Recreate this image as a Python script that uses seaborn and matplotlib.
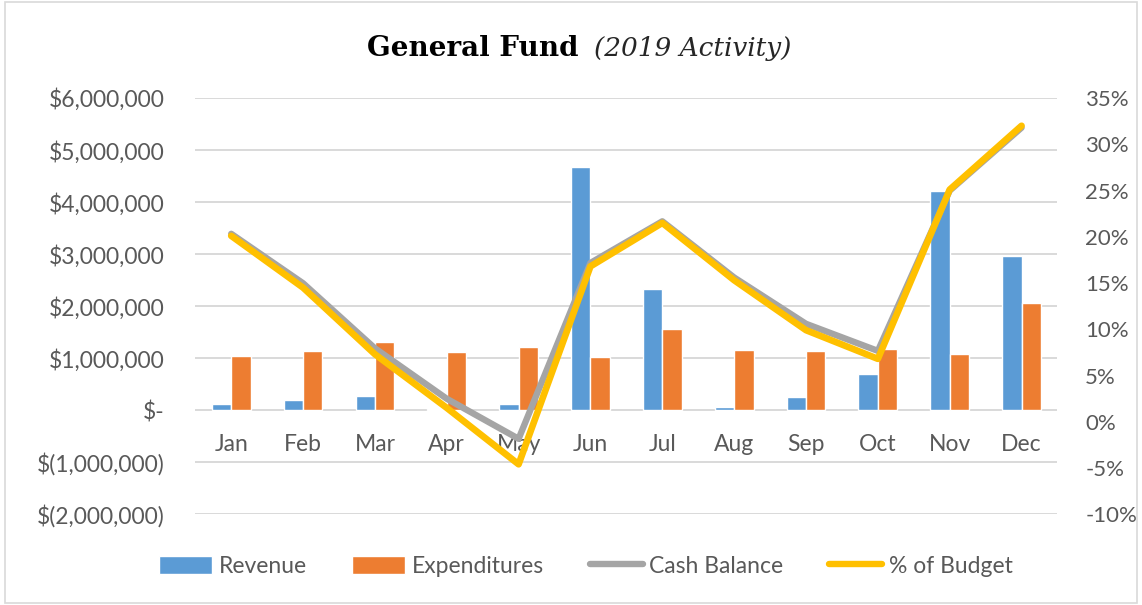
import numpy as np
import pandas as pd
import matplotlib
matplotlib.use("Agg")
import matplotlib.pyplot as plt
import seaborn as sns
from matplotlib.ticker import FuncFormatter, MultipleLocator
from matplotlib.patches import Patch, Rectangle
from matplotlib.lines import Line2D

months = ['Jan', 'Feb', 'Mar', 'Apr', 'May', 'Jun', 'Jul', 'Aug', 'Sep', 'Oct', 'Nov', 'Dec']
revenue = [120000, 190000, 270000, 30000, 120000, 4670000, 2320000, 70000, 250000, 690000, 4210000, 2970000]
expenditures = [1040000, 1140000, 1310000, 1110000, 1210000, 1030000, 1560000, 1160000, 1140000, 1180000, 1080000, 2060000]
cash_balance = [3390000, 2440000, 1190000, 220000, -550000, 2830000, 3630000, 2550000, 1660000, 1140000, 4220000, 5430000]
pct_budget = [0.201, 0.145, 0.073, 0.015, -0.046, 0.168, 0.215, 0.153, 0.099, 0.068, 0.251, 0.320]

blue, orange, grey, gold = '#5B9BD5', '#ED7D31', '#A5A5A5', '#FFC000'
txt = '#595959'

bars = pd.DataFrame({
    'month': months * 2,
    'series': ['Revenue'] * 12 + ['Expenditures'] * 12,
    'value': revenue + expenditures,
})

sns.set_style('white')
plt.rcParams['font.family'] = ['Lato', 'DejaVu Sans']

fig = plt.figure(figsize=(11.42, 6.05), dpi=100)
ax = fig.add_axes([0.171, 0.150, 0.755, 0.688])

sns.barplot(data=bars, x='month', y='value', hue='series', order=months,
            palette=[blue, orange], saturation=1, width=0.54, edgecolor='white',
            linewidth=1, ax=ax, legend=False)
sns.pointplot(x=months, y=cash_balance, order=months, color=grey, markers='',
              linewidth=4.6, errorbar=None, ax=ax)

ax2 = ax.twinx()
sns.pointplot(x=months, y=pct_budget, order=months, color=gold, markers='',
              linewidth=4.8, errorbar=None, ax=ax2)

ax.set_ylim(-2000000, 6000000)
ax.yaxis.set_major_locator(MultipleLocator(1000000))
ax2.set_ylim(-0.10, 0.35)
ax2.yaxis.set_major_locator(MultipleLocator(0.05))
ax.set_xlim(-0.5, 11.5)


def dollars(v, pos):
    if abs(v) < 1:
        return '$-'
    if v < 0:
        return '$({:,.0f})'.format(-v)
    return '${:,.0f}'.format(v)


ax.yaxis.set_major_formatter(FuncFormatter(dollars))
ax2.yaxis.set_major_formatter(FuncFormatter(lambda v, p: '{:.0f}%'.format(v * 100)))

ax.grid(axis='y', color='#D9D9D9', linewidth=1.4)
ax.set_axisbelow(True)
ax2.grid(False)
for a in (ax, ax2):
    for s in a.spines.values():
        s.set_visible(False)
    a.set_xlabel('')
    a.set_ylabel('')

ax.spines['bottom'].set_position(('data', 0))
ax.tick_params(axis='x', length=0, pad=17, labelsize=16.5, labelcolor=txt)
ax.tick_params(axis='y', length=0, pad=22, labelsize=16.5, labelcolor=txt)
ax2.tick_params(axis='y', length=0, pad=20, labelsize=16, labelcolor=txt)

fig.text(0.515, 0.920, 'General Fund ', ha='right', va='center',
         fontsize=20, fontweight='bold', family='DejaVu Serif', color='black')
fig.text(0.520, 0.920, '(2019 Activity)', ha='left', va='center',
         fontsize=19, style='italic', family='DejaVu Serif', color='#262626')

handles = [
    Patch(facecolor=blue, label='Revenue'),
    Patch(facecolor=orange, label='Expenditures'),
    Line2D([], [], color=grey, lw=4.6, label='Cash Balance'),
    Line2D([], [], color=gold, lw=4.6, label='% of Budget'),
]
fig.legend(handles=handles, loc='center', bbox_to_anchor=(0.513, 0.064), ncol=4,
           frameon=False, fontsize=16.5, labelcolor=txt, handlelength=2.3,
           handleheight=0.8, handletextpad=0.3, columnspacing=2.0)

fig.add_artist(Rectangle((0.004, 0.004), 0.992, 0.992, transform=fig.transFigure,
                         fill=False, edgecolor='#D9D9D9', linewidth=1.2))

fig.savefig('out.png', dpi=100)
